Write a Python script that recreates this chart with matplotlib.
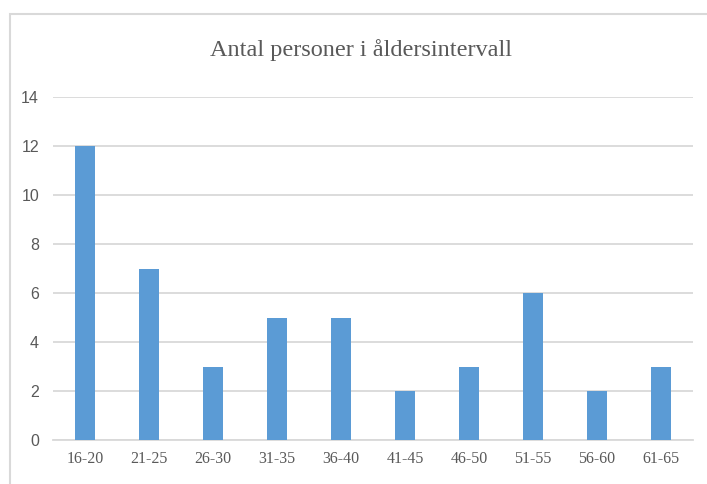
import matplotlib
matplotlib.use("Agg")
import matplotlib.pyplot as plt
from matplotlib.patches import Rectangle

categories = ["16-20", "21-25", "26-30", "31-35", "36-40", "41-45", "46-50", "51-55", "56-60", "61-65"]
values = [12, 7, 3, 5, 5, 2, 3, 6, 2, 3]
yticks = [0, 2, 4, 6, 8, 10, 12, 14]
title = "Antal personer i åldersintervall"

W, H = 707, 484
fig = plt.figure(figsize=(W / 100, H / 100), dpi=100)
fig.patch.set_facecolor("white")

# outer chart border (top and left visible)
fig.patches.append(Rectangle((10 / W, -0.1), 1.2, (H - 14) / H + 0.1, transform=fig.transFigure,
                             fill=False, edgecolor="#d9d9d9", linewidth=1.5))

ax = fig.add_axes([53 / W, 1 - 440 / H, (693 - 53) / W, (440 - 97) / H])
x = list(range(len(categories)))
ax.bar(x, values, width=0.31, color="#5b9bd5", zorder=3)
ax.set_xlim(-0.5, len(categories) - 0.5)
ax.set_ylim(0, 14)
ax.set_yticks(yticks)
ax.set_yticklabels([str(t) for t in yticks], fontsize=11.5, color="#595959", family="Liberation Sans")
ax.set_xticks(x)
ax.set_xticklabels(categories, fontsize=11.5, color="#595959", family="Liberation Serif")
ax.yaxis.grid(True, color="#d9d9d9", linewidth=1.3, zorder=0)
ax.set_axisbelow(True)
for s in ["top", "right", "left"]:
    ax.spines[s].set_visible(False)
ax.spines["bottom"].set_color("#d9d9d9")
ax.spines["bottom"].set_linewidth(1.3)
ax.tick_params(axis="both", length=0)
ax.tick_params(axis="y", pad=10)
ax.tick_params(axis="x", pad=8)

fig.text(0.5 * (210 + 513) / W, 1 - 50 / H, title, ha="center", va="center",
         fontsize=17.5, color="#595959", family="Liberation Serif")

fig.savefig("out.png", dpi=100)
